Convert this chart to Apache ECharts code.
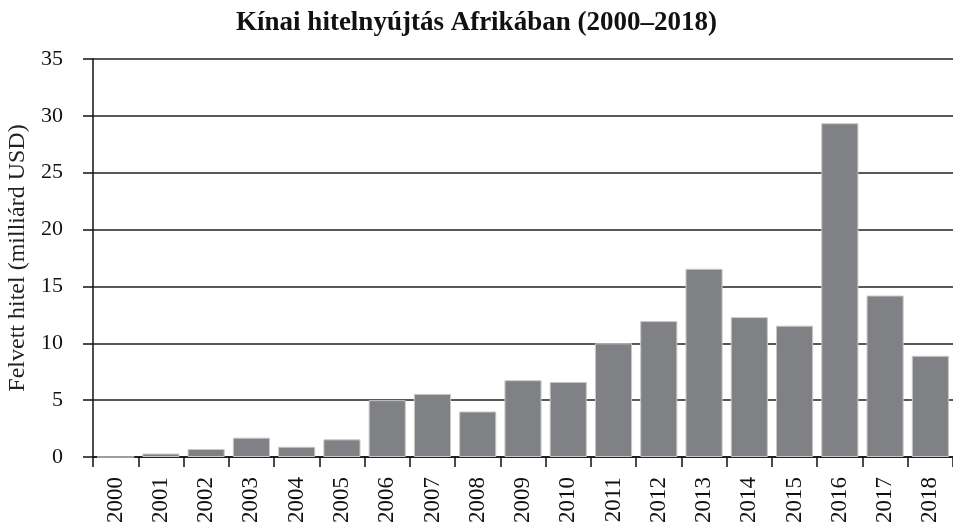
<!DOCTYPE html>
<html>
<head>
<meta charset="utf-8">
<script src="https://cdn.jsdelivr.net/npm/echarts@6/dist/echarts.min.js"></script>
<style>
  html, body { margin: 0; padding: 0; background: #fff; }
  #chart { width: 953px; height: 531px; }
</style>
</head>
<body>
<div id="chart"></div>
<script>
// évek és felvett hitel (milliárd USD)
const years = ['2000', '2001', '2002', '2003', '2004', '2005', '2006', '2007', '2008', '2009',
  '2010', '2011', '2012', '2013', '2014', '2015', '2016', '2017', '2018'];
const loans = [0, 0.3, 0.7, 1.7, 0.9, 1.55, 5.0, 5.55, 4.0, 6.75,
  6.6, 10.0, 11.95, 16.55, 12.3, 11.55, 29.35, 14.2, 8.9];

const serif = '"Liberation Serif", "Times New Roman", serif';

let chart = echarts.init(document.getElementById('chart'));

let option = {
  animation: false,
  title: {
    text: 'Kínai hitelnyújtás Afrikában (2000–2018)',
    left: 'center',
    top: 5,
    textStyle: { fontFamily: serif, fontWeight: 'bold', fontSize: 27, color: '#111' }
  },
  grid: { left: 93, right: 0, top: 59, bottom: 74, outerBoundsMode: 'none', containLabel: false },
  xAxis: {
    type: 'category',
    data: years,
    axisLine: { lineStyle: { color: '#111', width: 1.5 } },
    axisTick: { show: true, length: 10, alignWithLabel: false, lineStyle: { color: '#111', width: 1.5 } },
    axisLabel: { rotate: 90, margin: 20, fontFamily: serif, fontSize: 23, color: '#111', interval: 0 }
  },
  yAxis: {
    type: 'value',
    min: 0,
    max: 35,
    interval: 5,
    name: 'Felvett hitel (milliárd USD)',
    nameLocation: 'middle',
    nameGap: 55,
    nameTextStyle: { fontFamily: serif, fontSize: 24, color: '#222' },
    axisLine: { show: true, lineStyle: { color: '#111', width: 1.5 } },
    axisTick: { show: true, length: 10, lineStyle: { color: '#111', width: 1.5 } },
    axisLabel: { margin: 30, fontFamily: serif, fontSize: 22, color: '#111' },
    splitLine: { lineStyle: { color: '#222', width: 1.5 } }
  },
  series: [{
    type: 'bar',
    data: loans,
    barCategoryGap: '18%',
    itemStyle: { color: '#808185', borderColor: '#c8c8c8', borderWidth: 1 }
  }]
};

chart.setOption(option);
</script>
</body>
</html>
